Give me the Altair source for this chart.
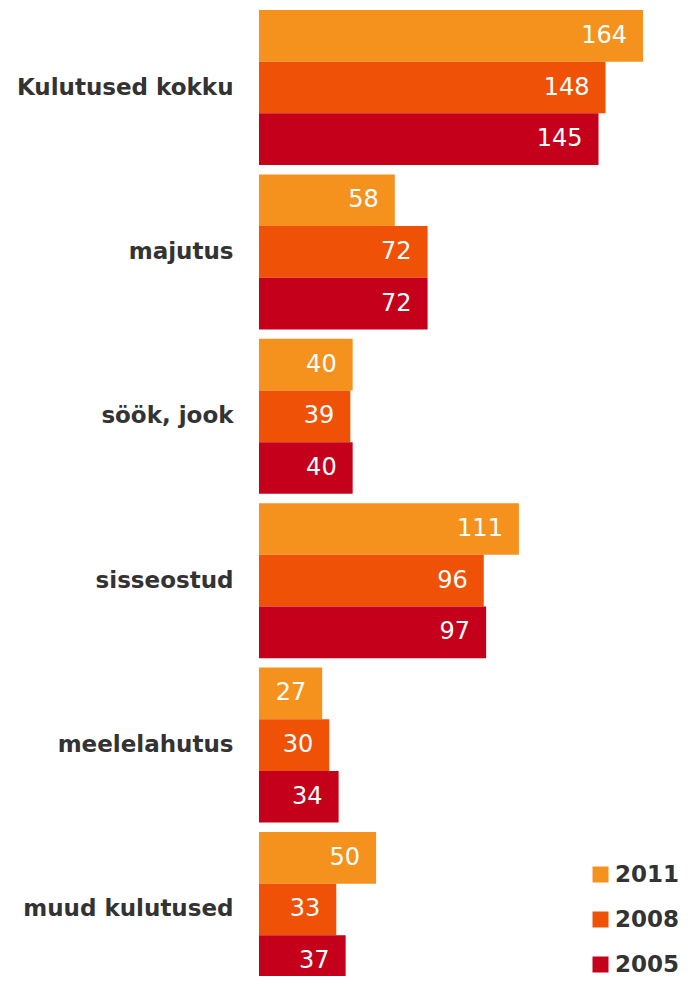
import altair as alt
import pandas as pd

categories = ["Kulutused kokku", "majutus", "söök, jook", "sisseostud", "meelelahutus", "muud kulutused"]
years = ["2011", "2008", "2005"]
values_2011 = [164, 58, 40, 111, 27, 50]
values_2008 = [148, 72, 39, 96, 30, 33]
values_2005 = [145, 72, 40, 97, 34, 37]
colors = ["#F5921E", "#EF5206", "#C4001A"]

rows = []
for yr, vals in zip(years, [values_2011, values_2008, values_2005]):
    for c, v in zip(categories, vals):
        rows.append({"category": c, "year": yr, "value": v})
df = pd.DataFrame(rows)

y = alt.Y(
    "category:N",
    sort=categories,
    scale=alt.Scale(range=[2, 979], paddingInner=0.057, paddingOuter=0),
    axis=alt.Axis(
        title=None, ticks=False, domain=False, labelPadding=26,
        labelFontSize=23, labelFont="DejaVu Sans", labelFontWeight="bold",
        labelColor="#333333", labelLimit=300,
    ),
)
yoff = alt.YOffset("year:N", scale=alt.Scale(domain=years, paddingInner=0, paddingOuter=0))
x = alt.X("value:Q", scale=alt.Scale(domain=[0, 164], nice=False), axis=None)

base = alt.Chart(df).encode(y=y, yOffset=yoff, x=x)

bars = base.mark_bar().encode(
    color=alt.Color(
        "year:N",
        scale=alt.Scale(domain=years, range=colors),
        legend=alt.Legend(
            title=None, orient="none", legendX=330, legendY=855,
            symbolType="square", symbolSize=256, symbolStrokeWidth=0,
            labelFontSize=23, labelFont="DejaVu Sans", labelFontWeight="bold",
            labelColor="#333333", rowPadding=21, labelOffset=3, padding=0,
        ),
    )
)

text = base.mark_text(
    align="right", baseline="middle", dx=-16,
    font="DejaVu Sans", fontSize=24, color="white",
).encode(text="value:Q")

chart = (
    (bars + text)
    .properties(
        width=384, height=968,
        padding={"left": 251, "top": 0, "right": 40, "bottom": 0},
        autosize="none",
        background="white",
    )
    .configure_view(stroke=None)
)

chart.save("out.html", embed_options={"renderer": "svg", "actions": False})
